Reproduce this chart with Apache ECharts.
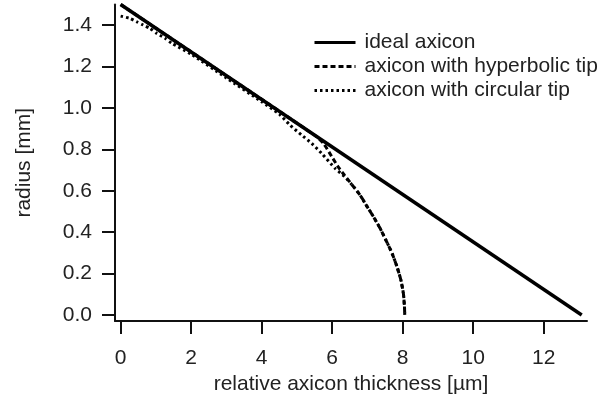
<!DOCTYPE html>
<html>
<head>
<meta charset="utf-8">
<script src="https://cdn.jsdelivr.net/npm/echarts@6/dist/echarts.min.js"></script>
<style>html,body{margin:0;padding:0;background:#fff}#c{width:612px;height:403px}</style>
</head>
<body>
<div id="c"></div>
<script>
// Data (x = relative axicon thickness [µm], y = radius [mm])
const xTicks = [0, 2, 4, 6, 8, 10, 12];
const yTicks = [0, 0.2, 0.4, 0.6, 0.8, 1.0, 1.2, 1.4];
const seriesNames = ['ideal axicon', 'axicon with hyperbolic tip', 'axicon with circular tip'];
const idealX = [0, 13.08];
const idealY = [1.5, 0];
const hyperX = [0, 5.5, 5.75, 5.99, 6.17, 6.35, 6.55, 6.79, 6.98, 7.17, 7.36, 7.53, 7.7, 7.84, 7.95, 8.02, 8.05, 8.06];
const hyperY = [1.5, 0.869, 0.83, 0.765, 0.716, 0.675, 0.632, 0.58, 0.527, 0.475, 0.419, 0.36, 0.298, 0.233, 0.169, 0.105, 0.045, 0];
const circX = [0, 0.26, 0.45, 0.64, 0.83, 1.02, 1.26, 1.45, 2, 3, 4, 4.5, 4.8, 5.13, 5.42, 5.7, 6.08, 6.36, 6.55, 6.79, 6.98, 7.17, 7.36, 7.53, 7.7, 7.84, 7.95, 8.02, 8.05, 8.06];
const circY = [1.444, 1.433, 1.417, 1.401, 1.385, 1.361, 1.337, 1.313, 1.26, 1.145, 1.03, 0.97, 0.918, 0.87, 0.829, 0.781, 0.709, 0.668, 0.632, 0.58, 0.527, 0.475, 0.419, 0.36, 0.298, 0.233, 0.169, 0.105, 0.045, 0];

const zip = (xs, ys) => xs.map((x, i) => [x, ys[i]]);
const FONT = 'Liberation Sans, Arial, sans-serif';
const TXT = '#222';
const FS = 21;

const chart = echarts.init(document.getElementById('c'), null, {renderer: 'canvas'});
chart.setOption({
  animation: false,
  backgroundColor: '#fff',
  grid: {left: 115, right: 25, top: 4.5, bottom: 82},
  legend: {
    orient: 'vertical', left: 313, top: 32, padding: 0,
    itemWidth: 41, itemHeight: 14, itemGap: 3,
    itemStyle: {opacity: 0},
    lineStyle: {width: 3},
    textStyle: {fontFamily: FONT, fontSize: FS, color: TXT, padding: [0, 0, 0, 4]},
    data: seriesNames
  },
  xAxis: {
    type: 'value', min: -0.16, max: 13.23,
    name: 'relative axicon thickness [µm]', nameLocation: 'middle', nameGap: 48,
    nameTextStyle: {fontFamily: FONT, fontSize: FS, color: TXT},
    axisLine: {onZero: false, lineStyle: {color: '#111', width: 2}},
    axisTick: {show: true, length: 13, customValues: xTicks, lineStyle: {color: '#111', width: 2}},
    axisLabel: {customValues: xTicks, margin: 27, fontFamily: FONT, fontSize: FS, color: TXT},
    splitLine: {show: false}
  },
  yAxis: {
    type: 'value', min: -0.029, max: 1.5,
    name: 'radius [mm]', nameLocation: 'middle', nameGap: 80,
    nameTextStyle: {fontFamily: FONT, fontSize: FS, color: TXT},
    axisLine: {show: true, onZero: false, lineStyle: {color: '#111', width: 2}},
    axisTick: {show: true, length: 13, customValues: yTicks, lineStyle: {color: '#111', width: 2}},
    axisLabel: {customValues: yTicks, margin: 23, fontFamily: FONT, fontSize: FS, color: TXT,
      formatter: v => v.toFixed(1)},
    splitLine: {show: false}
  },
  series: [
    {name: seriesNames[0], type: 'line', data: zip(idealX, idealY), symbol: 'none', clip: false,
     lineStyle: {color: '#000', width: 3.5, type: 'solid'}, itemStyle: {color: '#000'}},
    {name: seriesNames[1], type: 'line', data: zip(hyperX, hyperY), symbol: 'none', clip: false, smooth: 0.2,
     lineStyle: {color: '#000', width: 3, type: [5, 3]}, itemStyle: {color: '#000'}},
    {name: seriesNames[2], type: 'line', data: zip(circX, circY), symbol: 'none', clip: false, smooth: 0.2,
     lineStyle: {color: '#000', width: 3, type: [2.5, 3]}, itemStyle: {color: '#000'}}
  ]
});
</script>
</body>
</html>
